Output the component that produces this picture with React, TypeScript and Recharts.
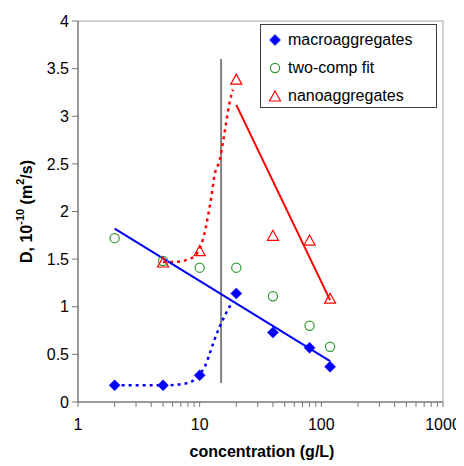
import React from "react";
import {
  ComposedChart,
  Line,
  Scatter,
  XAxis,
  YAxis,
  ReferenceLine,
  Label,
} from "recharts";

// ---- data ----
const macroX = [2, 5, 10, 20, 40, 80, 118];
const macroY = [0.175, 0.175, 0.28, 1.14, 0.73, 0.57, 0.37];

const twoCompX = [2, 5, 10, 20, 40, 80, 118];
const twoCompY = [1.72, 1.48, 1.41, 1.41, 1.11, 0.8, 0.58];

const nanoX = [5, 10, 20, 40, 80, 118];
const nanoY = [1.47, 1.59, 3.39, 1.75, 1.7, 1.09];

const macroTrendX = [2, 118];
const macroTrendY = [1.82, 0.43];

const nanoTrendX = [20, 118];
const nanoTrendY = [3.12, 1.07];

const macroCurveX = [2, 5, 7.8, 11, 12.1, 13.2, 14.6, 16, 17.6, 18.8];
const macroCurveY = [0.175, 0.175, 0.196, 0.37, 0.51, 0.65, 0.79, 0.9, 1.0, 1.05];

const nanoCurveX = [5, 6.05, 8.56, 10.6, 11.7, 12.5, 13.2, 14.6, 15.5, 16.5, 17.6, 18.8];
const nanoCurveY = [1.47, 1.47, 1.51, 1.7, 1.95, 2.16, 2.37, 2.54, 2.72, 2.93, 3.14, 3.28];

const thresholdX = 15;
const thresholdYRange = [0.2, 3.6];

const xTicks = [
  1, 2, 3, 4, 5, 6, 7, 8, 9, 10, 20, 30, 40, 50, 60, 70, 80, 90, 100, 200, 300,
  400, 500, 600, 700, 800, 900, 1000,
];
const xLabelTicks = [1, 10, 100, 1000];
const yTicks = [0, 0.5, 1, 1.5, 2, 2.5, 3, 3.5, 4];

const legendItems = [
  { name: "macroaggregates", kind: "diamond" },
  { name: "two-comp fit", kind: "circle" },
  { name: "nanoaggregates", kind: "triangle" },
];

const BLUE = "#0000FF";
const GREEN = "#339933";
const RED = "#FF0000";
const FONT = "'Liberation Sans', Arial, sans-serif";

const zip = (xs: number[], ys: number[]) => xs.map((x, i) => ({ x, y: ys[i] }));

const macroData = zip(macroX, macroY);
const twoCompData = zip(twoCompX, twoCompY);
const nanoData = zip(nanoX, nanoY);
const macroTrend = zip(macroTrendX, macroTrendY);
const nanoTrend = zip(nanoTrendX, nanoTrendY);
const macroCurve = zip(macroCurveX, macroCurveY);
const nanoCurve = zip(nanoCurveX, nanoCurveY);

const Diamond = (p: any) => {
  const { cx, cy } = p;
  if (cx == null || cy == null) return <g />;
  const r = 5.5;
  return (
    <path
      d={`M${cx},${cy - r}L${cx + r},${cy}L${cx},${cy + r}L${cx - r},${cy}Z`}
      fill={BLUE}
      stroke={BLUE}
      strokeWidth={0.5}
    />
  );
};

const Circle = (p: any) => {
  const { cx, cy } = p;
  if (cx == null || cy == null) return <g />;
  return <circle cx={cx} cy={cy} r={4.6} fill="none" stroke={GREEN} strokeWidth={1.2} />;
};

const Triangle = (p: any) => {
  const { cx, cy } = p;
  if (cx == null || cy == null) return <g />;
  const w = 5.5;
  const h = 5;
  return (
    <path
      d={`M${cx},${cy - h}L${cx + w},${cy + h}L${cx - w},${cy + h}Z`}
      fill="none"
      stroke={RED}
      strokeWidth={1.2}
    />
  );
};

const LegendMarker = ({ kind }: { kind: string }) => (
  <svg width={14} height={14} style={{ display: "block" }}>
    {kind === "diamond" && <Diamond cx={7} cy={7} />}
    {kind === "circle" && <Circle cx={7} cy={7} />}
    {kind === "triangle" && <Triangle cx={7} cy={7} />}
  </svg>
);

const YLabel = (props: any) => {
  const cx = 18;
  const cy = 203.5;
  return (
    <text
      x={cx}
      y={cy}
      transform={`rotate(-90, ${cx}, ${cy})`}
      textAnchor="middle"
      dominantBaseline="central"
      fontFamily={FONT}
      fontWeight="bold"
      fontSize={16}
      fill="#000"
    >
      <tspan>D, 10</tspan>
      <tspan fontSize={11} dy={-6}>-10</tspan>
      <tspan dy={6}> (m</tspan>
      <tspan fontSize={11} dy={-6}>2</tspan>
      <tspan dy={6}>/s)</tspan>
    </text>
  );
};

const XLabel = () => (
  <text
    x={254}
    y={443}
    textAnchor="middle"
    dominantBaseline="central"
    fontFamily={FONT}
    fontWeight="bold"
    fontSize={16}
    fill="#000"
  >
    concentration (g/L)
  </text>
);

export default function App() {
  return (
    <div style={{ position: "relative", width: 456, height: 458, fontFamily: FONT }}>
      <ComposedChart
        width={456}
        height={458}
        margin={{ top: 13, right: 21, bottom: 0, left: 0 }}
      >
        <XAxis
          dataKey="x"
          type="number"
          scale="log"
          domain={[1, 1000]}
          ticks={xTicks}
          allowDataOverflow
          interval={0}
          height={64}
          tickSize={5}
          tickMargin={12}
          stroke="#777"
          axisLine={{ stroke: "#777", strokeWidth: 1.5 }}
          tickLine={{ stroke: "#777" }}
          tick={{ fill: "#000", fontSize: 16, fontFamily: FONT }}
          tickFormatter={(v: number) => (xLabelTicks.includes(v) ? String(v) : "")}
        >
          <Label content={<XLabel />} />
        </XAxis>
        <YAxis
          dataKey="y"
          type="number"
          domain={[0, 4]}
          ticks={yTicks}
          interval={0}
          width={70}
          tickSize={6}
          tickMargin={3}
          stroke="#777"
          axisLine={{ stroke: "#777", strokeWidth: 1.5 }}
          tickLine={{ stroke: "#777" }}
          tick={{ fill: "#000", fontSize: 16, fontFamily: FONT }}
        >
          <Label content={<YLabel />} />
        </YAxis>

        <ReferenceLine y={4} stroke="#a6a6a6" strokeWidth={1} />
        <ReferenceLine x={1000} stroke="#a6a6a6" strokeWidth={1} />

        <ReferenceLine
          segment={[
            { x: thresholdX, y: thresholdYRange[0] },
            { x: thresholdX, y: thresholdYRange[1] },
          ]}
          stroke="#808080"
          strokeWidth={2}
        />

        <Line
          data={macroCurve}
          dataKey="y"
          type="monotone"
          stroke={BLUE}
          strokeWidth={2.5}
          strokeDasharray="3 4"
          dot={false}
          activeDot={false}
          isAnimationActive={false}
        />
        <Line
          data={nanoCurve}
          dataKey="y"
          type="monotone"
          stroke={RED}
          strokeWidth={2.5}
          strokeDasharray="3 4"
          dot={false}
          activeDot={false}
          isAnimationActive={false}
        />
        <Line
          data={macroTrend}
          dataKey="y"
          type="linear"
          stroke={BLUE}
          strokeWidth={2}
          dot={false}
          activeDot={false}
          isAnimationActive={false}
        />
        <Line
          data={nanoTrend}
          dataKey="y"
          type="linear"
          stroke={RED}
          strokeWidth={2}
          dot={false}
          activeDot={false}
          isAnimationActive={false}
        />

        <Scatter data={twoCompData} dataKey="y" shape={<Circle />} isAnimationActive={false} />
        <Scatter data={nanoData} dataKey="y" shape={<Triangle />} isAnimationActive={false} />
        <Scatter data={macroData} dataKey="y" shape={<Diamond />} isAnimationActive={false} />
      </ComposedChart>

      <div
        style={{
          position: "absolute",
          left: 252,
          top: 16,
          width: 177,
          height: 84,
          border: "1px solid #404040",
          background: "#fff",
          boxSizing: "border-box",
        }}
      >
        {legendItems.map((it, i) => (
          <div
            key={it.name}
            style={{
              position: "absolute",
              left: 7,
              top: 15 + i * 28 - 10,
              height: 20,
              display: "flex",
              alignItems: "center",
              whiteSpace: "nowrap",
            }}
          >
            <LegendMarker kind={it.kind} />
            <span style={{ marginLeft: 6, fontSize: 16, color: "#000", fontFamily: FONT }}>
              {it.name}
            </span>
          </div>
        ))}
      </div>
    </div>
  );
}
